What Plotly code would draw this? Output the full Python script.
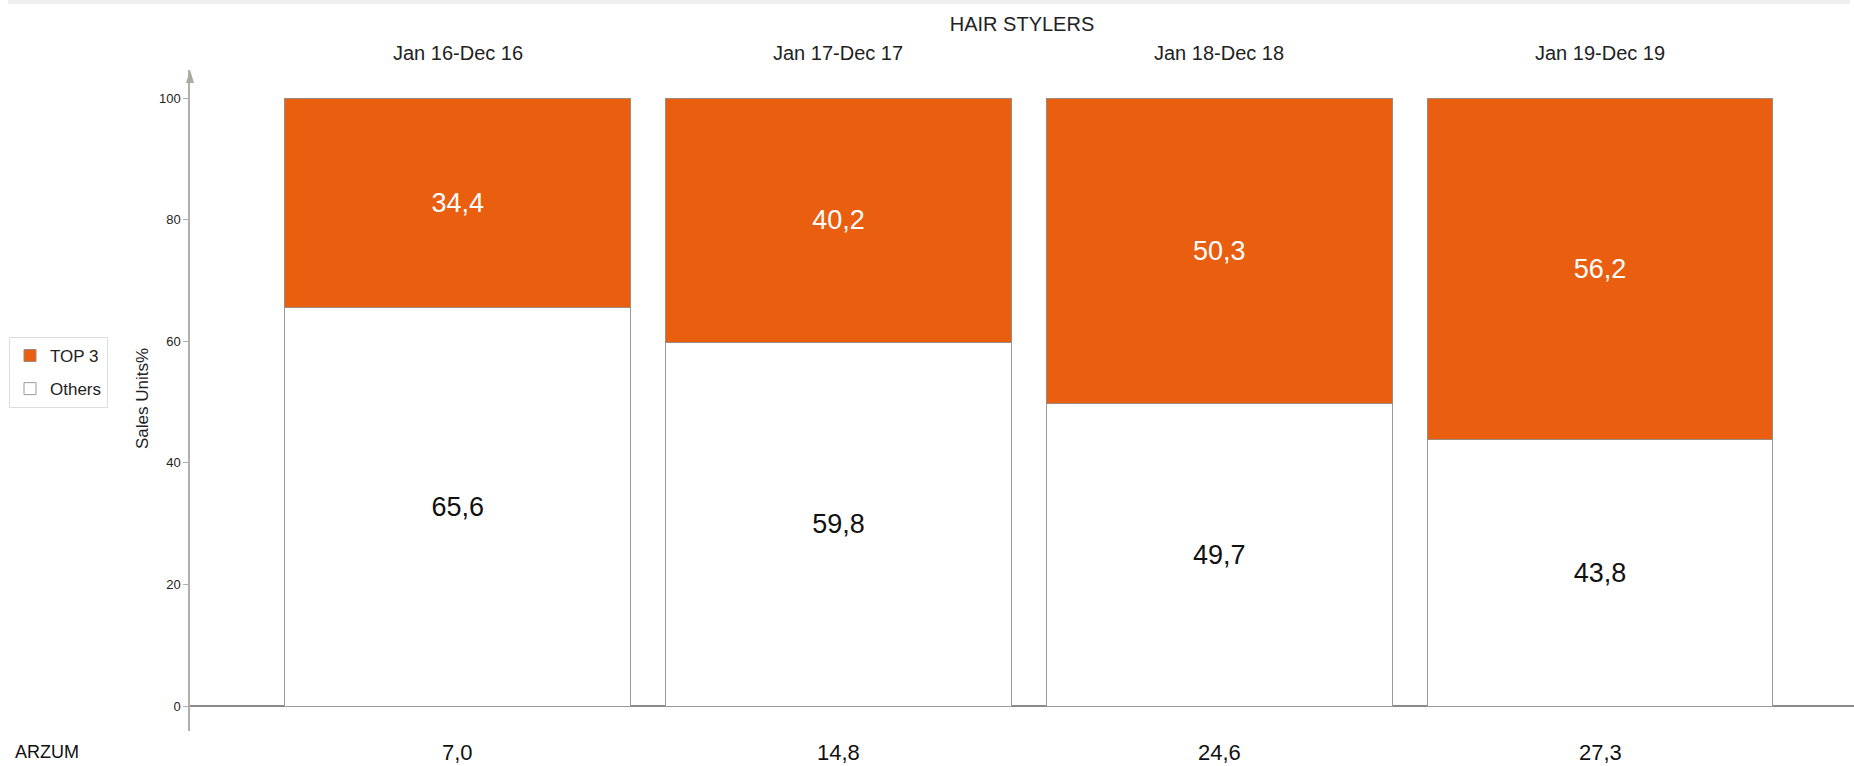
import plotly.graph_objects as go

periods = ["Jan 16-Dec 16", "Jan 17-Dec 17", "Jan 18-Dec 18", "Jan 19-Dec 19"]
others = [65.6, 59.8, 49.7, 43.8]
top3 = [34.4, 40.2, 50.3, 56.2]
arzum = [7.0, 14.8, 24.6, 27.3]
chart_title = "HAIR STYLERS"
y_title = "Sales Units%"
row_label = "ARZUM"

FONT = "Liberation Sans, Arial, sans-serif"
ORANGE = "#E95E0F"

def fmt(v):
    return f"{v:.1f}".replace(".", ",")

x = list(range(len(periods)))

fig = go.Figure()
fig.add_trace(go.Bar(
    x=x, y=others, name="Others", width=0.908, legendgroup="o", legendrank=2,
    marker=dict(color="white", line=dict(color="#9a9a9a", width=1)),
    text=[fmt(v) for v in others], textposition="inside", insidetextanchor="middle",
    textangle=0, textfont=dict(size=27, color="#111111", family=FONT),
    constraintext="none",
))
fig.add_trace(go.Bar(
    x=x, y=top3, name="TOP 3", width=0.908, legendgroup="t", legendrank=1,
    marker=dict(color=ORANGE, line=dict(color="#9a8a80", width=1)),
    text=[fmt(v) for v in top3], textposition="inside", insidetextanchor="middle",
    textangle=0, textfont=dict(size=27, color="white", family=FONT),
    constraintext="none",
))

W, H = 1854, 766
L, R, T, B = 190, 0, 70, 35
pw, ph = W - L - R, H - T - B

def px_x(p):
    return (p - L) / pw

def px_y(p):
    return (H - B - p) / ph

annotations = []
for i, p in enumerate(periods):
    annotations.append(dict(x=i, xref="x", y=px_y(53), yref="paper", text=p,
                            showarrow=False, xanchor="center", yanchor="middle",
                            font=dict(size=20, color="#222222", family=FONT)))
for i, v in enumerate(arzum):
    annotations.append(dict(x=i, xref="x", y=px_y(752), yref="paper", text=fmt(v),
                            showarrow=False, xanchor="center", yanchor="middle",
                            font=dict(size=22, color="#111111", family=FONT)))
annotations.append(dict(x=px_x(13), xref="paper", y=px_y(752), yref="paper", text=row_label,
                        showarrow=False, xanchor="left", yanchor="middle",
                        font=dict(size=18, color="#111111", family=FONT)))
annotations.append(dict(x=px_x(142), xref="paper", y=px_y(399), yref="paper", text=y_title,
                        showarrow=False, xanchor="center", yanchor="middle", textangle=-90,
                        font=dict(size=17, color="#222222", family=FONT)))

shapes = [
    dict(type="rect", xref="paper", yref="paper", x0=px_x(8), x1=px_x(1850),
         y0=px_y(4), y1=px_y(0), fillcolor="#efefef", line=dict(width=0), layer="below"),
    dict(type="path", xref="paper", yref="paper", xsizemode="pixel", ysizemode="pixel",
         xanchor=0, yanchor=1, path="M -4,-13 L 0,0 L 4,-13 Z",
         fillcolor="#aaaaa0", line=dict(width=0)),
]

fig.update_layout(
    width=W, height=H,
    margin=dict(l=L, r=R, t=T, b=B),
    paper_bgcolor="white", plot_bgcolor="white",
    barmode="stack",
    font=dict(family=FONT, color="#222222"),
    title=dict(text=chart_title, x=0.5, xref="paper", xanchor="center",
               y=1 - 24 / H, yanchor="middle", font=dict(size=20, color="#222222", family=FONT)),
    xaxis=dict(range=[-0.703, 3.667], showticklabels=False, showgrid=False,
               zeroline=False, showline=False, ticks=""),
    yaxis=dict(range=[-25 / 6.08, 100 + 28 / 6.08], tickvals=[0, 20, 40, 60, 80, 100],
               showgrid=False, showline=True, linecolor="#b0b0aa", linewidth=1.5,
               ticks="outside", ticklen=5, tickcolor="#b0b0aa",
               tickfont=dict(size=13, color="#222222", family=FONT),
               zeroline=True, zerolinecolor="#8a8a8a", zerolinewidth=1.5),
    legend=dict(x=px_x(9), y=px_y(337), xanchor="left", yanchor="top",
                traceorder="grouped", tracegroupgap=8,
                bordercolor="#dddddd", borderwidth=1,
                font=dict(size=17, color="#222222", family=FONT), bgcolor="white"),
    showlegend=True,
    annotations=annotations,
    shapes=shapes,
)

fig.write_html("out.html", config={"displayModeBar": False},
               post_script="document.body.style.margin='0px';document.body.style.padding='0px';")
